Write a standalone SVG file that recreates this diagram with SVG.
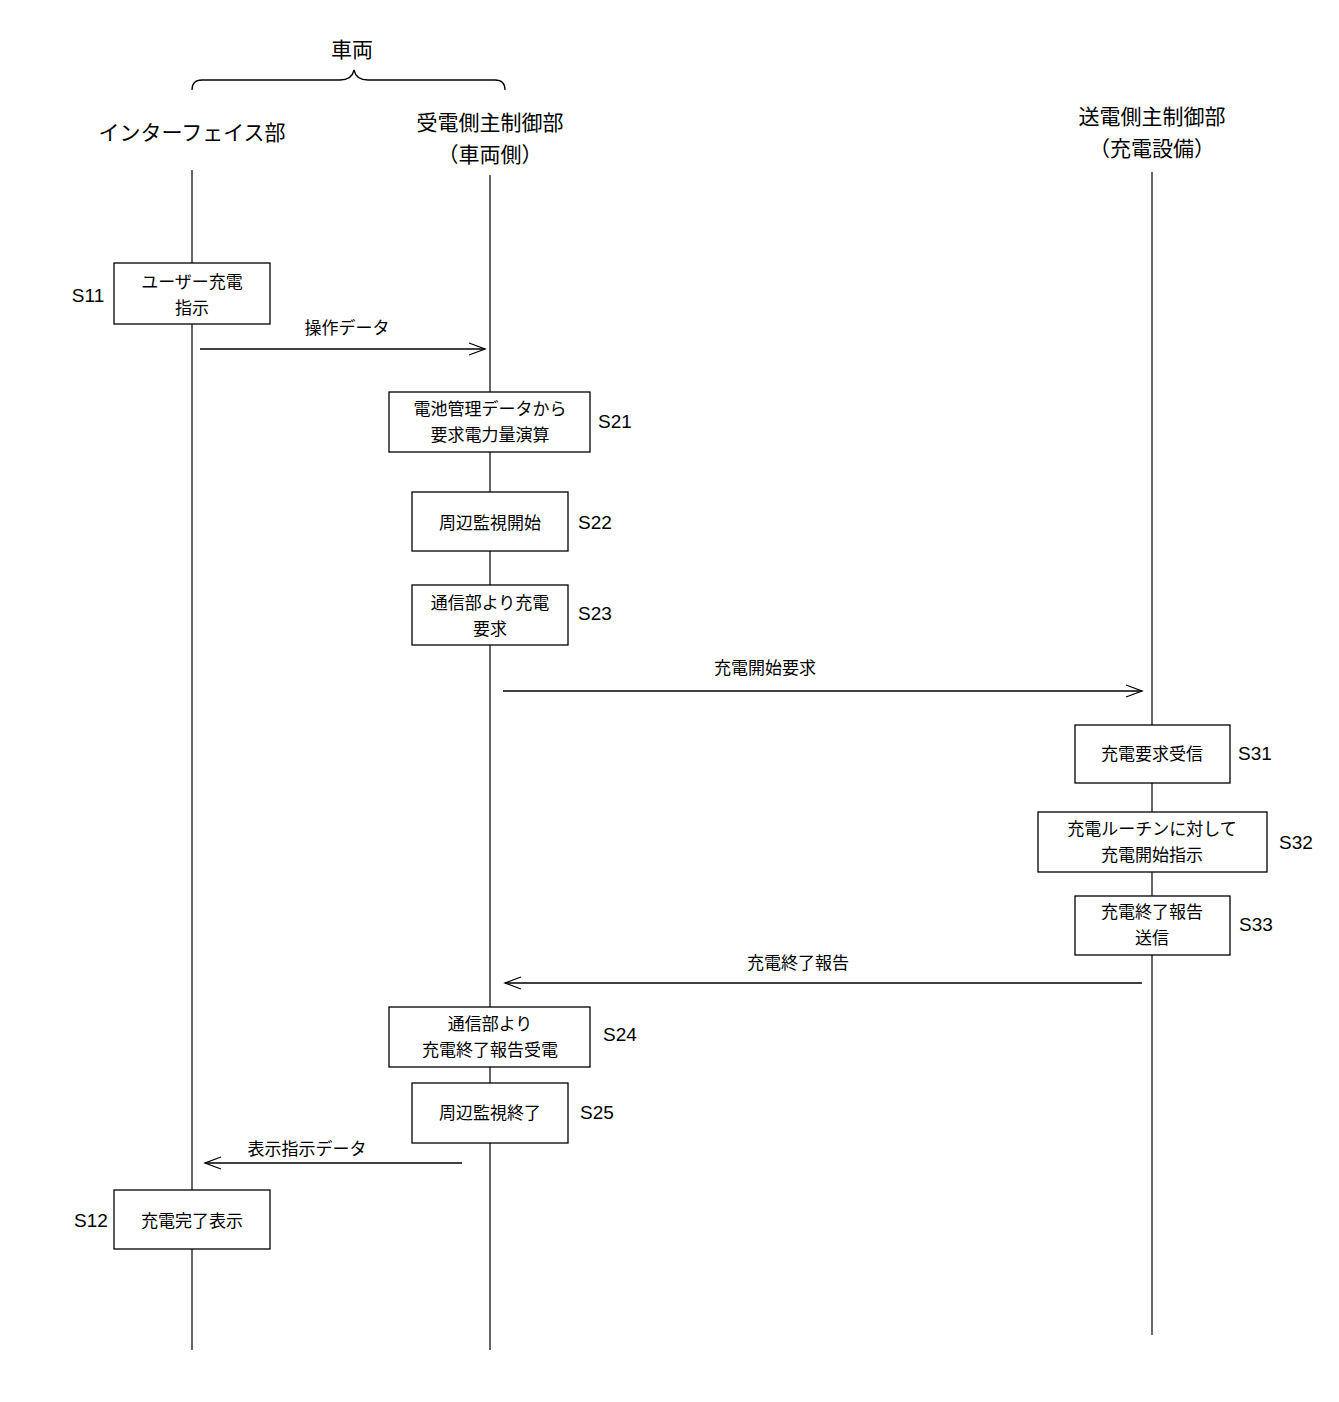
<svg xmlns="http://www.w3.org/2000/svg" width="1339" height="1402" viewBox="0 0 1339 1402">
<style>
text{font-family:"Noto Sans CJK JP","Liberation Sans",sans-serif;fill:#000;text-anchor:middle}
.h{font-size:21px}.b{font-size:17px}.s{font-size:19px;font-family:"Liberation Sans",sans-serif}
.ll{stroke:#000;stroke-width:1.2;fill:none}
rect{fill:#fff;stroke:#000;stroke-width:1.3}
.a{stroke:#000;stroke-width:1.3;fill:none}
</style>
<defs><marker id="m" markerWidth="20" markerHeight="14" refX="18" refY="7" orient="auto" markerUnits="userSpaceOnUse"><path d="M2,1 L18,7 L2,13" fill="none" stroke="#000" stroke-width="1.3"/></marker></defs>
<g id="header">
<text class="h" x="352" y="57">車両</text>
<path class="a" d="M192,90 Q192,80 202,80 L340,80 Q352,80 354,70 Q356,80 368,80 L495,80 Q505,80 505,90"/>
<text class="h" x="192" y="140">インターフェイス部</text>
<text class="h" x="490" y="130">受電側主制御部</text>
<text class="h" x="490" y="162">（車両側）</text>
<text class="h" x="1152" y="124">送電側主制御部</text>
<text class="h" x="1152" y="156">（充電設備）</text>
</g>
<g id="lifelines">
<line class="ll" x1="192" y1="170" x2="192" y2="1350"/>
<line class="ll" x1="490" y1="175" x2="490" y2="1350"/>
<line class="ll" x1="1152" y1="172" x2="1152" y2="1335"/>
</g>
<g id="connectors">
<line class="a" x1="200" y1="349" x2="485" y2="349" marker-end="url(#m)"/>
<text class="b" x="347" y="334">操作データ</text>
<line class="a" x1="503" y1="691" x2="1142" y2="691" marker-end="url(#m)"/>
<text class="b" x="765" y="674">充電開始要求</text>
<line class="a" x1="1142" y1="983" x2="505" y2="983" marker-end="url(#m)"/>
<text class="b" x="798" y="969">充電終了報告</text>
<line class="a" x1="462" y1="1163" x2="205" y2="1163" marker-end="url(#m)"/>
<text class="b" x="307" y="1155">表示指示データ</text>
</g>
<g id="S11"><rect x="114" y="263" width="156" height="61"/><text class="b" x="192" y="288">ユーザー充電</text><text class="b" x="192" y="314">指示</text><text class="s" x="88" y="302">S11</text></g>
<g id="S21"><rect x="389" y="392" width="201" height="60"/><text class="b" x="490" y="415">電池管理データから</text><text class="b" x="490" y="441">要求電力量演算</text><text class="s" x="615" y="428">S21</text></g>
<g id="S22"><rect x="412" y="492" width="156" height="59"/><text class="b" x="490" y="529">周辺監視開始</text><text class="s" x="595" y="529">S22</text></g>
<g id="S23"><rect x="412" y="585" width="156" height="60"/><text class="b" x="490" y="609">通信部より充電</text><text class="b" x="490" y="635">要求</text><text class="s" x="595" y="620">S23</text></g>
<g id="S31"><rect x="1075" y="725" width="155" height="58"/><text class="b" x="1152" y="760">充電要求受信</text><text class="s" x="1255" y="760">S31</text></g>
<g id="S32"><rect x="1038" y="812" width="229" height="60"/><text class="b" x="1152" y="835">充電ルーチンに対して</text><text class="b" x="1152" y="861">充電開始指示</text><text class="s" x="1296" y="849">S32</text></g>
<g id="S33"><rect x="1075" y="896" width="155" height="59"/><text class="b" x="1152" y="918">充電終了報告</text><text class="b" x="1152" y="944">送信</text><text class="s" x="1256" y="931">S33</text></g>
<g id="S24"><rect x="389" y="1007" width="201" height="60"/><text class="b" x="490" y="1030">通信部より</text><text class="b" x="490" y="1056">充電終了報告受電</text><text class="s" x="620" y="1041">S24</text></g>
<g id="S25"><rect x="412" y="1083" width="156" height="60"/><text class="b" x="490" y="1119">周辺監視終了</text><text class="s" x="597" y="1119">S25</text></g>
<g id="S12"><rect x="114" y="1190" width="156" height="59"/><text class="b" x="192" y="1227">充電完了表示</text><text class="s" x="91" y="1227">S12</text></g>
</svg>
